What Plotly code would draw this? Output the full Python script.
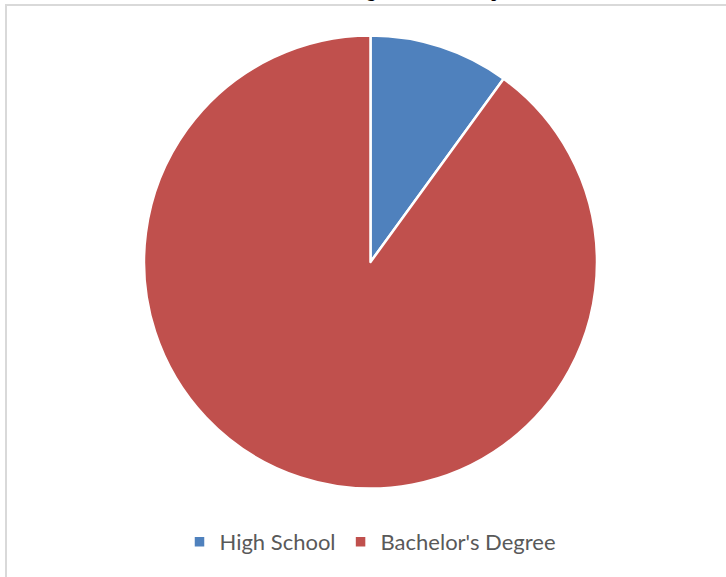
import plotly.graph_objects as go

# Survey results: highest completed degree
categories = ["High School", "Bachelor's Degree"]
counts = [1, 9]
colors = ["#4F81BD", "#C0504D"]
title_text = "Educational Background of Participants"

W, H = 726, 577

fig = go.Figure(
    go.Pie(
        labels=categories,
        values=counts,
        sort=False,
        direction="clockwise",
        rotation=0,
        textinfo="none",
        hoverinfo="label+percent",
        marker=dict(colors=colors, line=dict(color="white", width=2.5)),
        domain=dict(x=[144 / W, 597 / W], y=[(H - 489) / H, (H - 35) / H]),
    )
)

# chart frame
fig.add_shape(
    type="rect", xref="paper", yref="paper",
    x0=6 / W, x1=1.05, y0=-0.05, y1=(H - 5) / H,
    line=dict(color="#d9d9d9", width=2), fillcolor="rgba(0,0,0,0)", layer="below",
)

fig.add_annotation(
    text="<b>" + title_text + "</b>",
    xref="paper", yref="paper", x=0.530, y=(H - 3) / H,
    xanchor="center", yanchor="bottom", showarrow=False,
    font=dict(family="Liberation Serif", size=17, color="black"),
)

fig.update_layout(
    width=W, height=H,
    margin=dict(l=0, r=0, t=0, b=0),
    paper_bgcolor="white",
    showlegend=True,
    legend=dict(
        orientation="h", x=370 / W, xanchor="center", y=(H - 542) / H, yanchor="middle",
        font=dict(family="Lato", size=22, color="#595959"),
        itemwidth=30, bgcolor="rgba(0,0,0,0)",
    ),
)

fig.write_html("out.html")
